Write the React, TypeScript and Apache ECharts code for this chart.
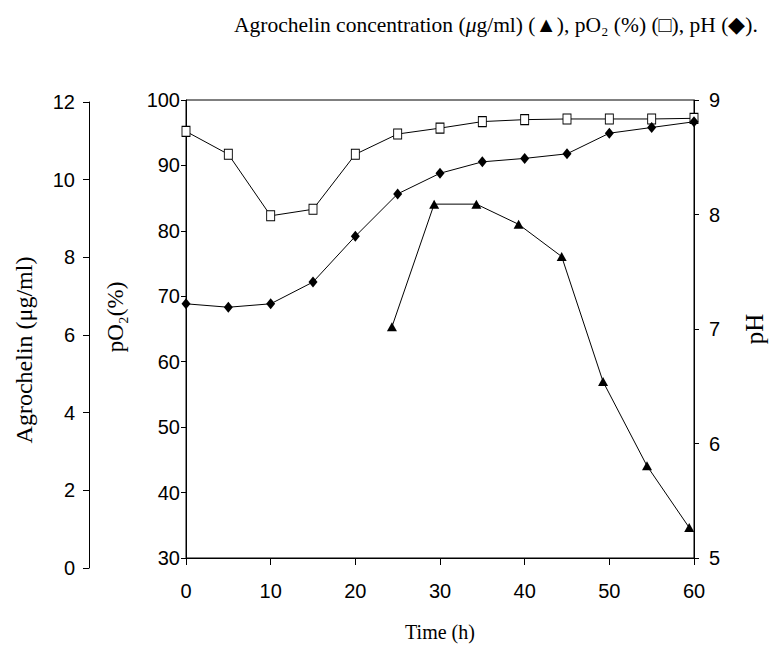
import React, { useEffect, useRef } from "react";
import * as echarts from "echarts";

// Time (h) for each series
const timeO2 = [0, 5, 10, 15, 20, 25, 30, 35, 40, 45, 50, 55, 60];
const pO2Values = [95.2, 91.7, 82.3, 83.3, 91.7, 94.8, 95.7, 96.7, 97.0, 97.1, 97.1, 97.1, 97.2];
const timePH = [0, 5, 10, 15, 20, 25, 30, 35, 40, 45, 50, 55, 60];
const pHValues = [7.22, 7.19, 7.22, 7.41, 7.81, 8.18, 8.36, 8.46, 8.49, 8.53, 8.71, 8.76, 8.81];
const timeAgro = [23.9, 28.8, 33.7, 38.6, 43.6, 48.4, 53.5, 58.4];
const agroValues = [6.21, 9.37, 9.37, 8.85, 8.02, 4.8, 2.63, 1.04];

const titleText = "Agrochelin concentration ({it|\u03bc}g/ml) (\u25b2), pO\u2082 (%) (\u25a1), pH (\u25c6).";

const SERIF = "'Liberation Serif', 'Times New Roman', serif";
const SANS = "'Liberation Sans Narrow', 'Arial Narrow', 'Liberation Sans', Arial, sans-serif";

const pairs = (xs: number[], ys: number[]) => xs.map((x, i) => [x, ys[i]]);

export default function App() {
  const ref = useRef<HTMLDivElement>(null);
  useEffect(() => {
    if (!ref.current) return;
    const chart = echarts.init(ref.current, null, { renderer: "svg" });
    const axisLine = { show: true, onZero: false, lineStyle: { color: "#000", width: 1 } };
    const tickLabel = { color: "#000", fontSize: 20, fontFamily: SANS };
    const nameStyle = (size: number, padding?: number[]) => ({
      color: "#000",
      fontSize: size,
      fontFamily: SERIF,
      ...(padding ? { padding } : {}),
    });
    chart.setOption({
      animation: false,
      backgroundColor: "#fff",
      title: {
        text: titleText,
        left: 229,
        top: 9,
        textStyle: {
          color: "#000",
          fontSize: 21.5,
          fontWeight: "normal",
          fontFamily: SERIF,
          rich: {
            it: { fontStyle: "italic", fontSize: 21.5, fontFamily: SERIF, color: "#000" },
          },
        },
      },
      grid: [
        { left: 186, right: 72, top: 100, bottom: 90, show: true, borderColor: "#000", borderWidth: 1 },
        { left: 186, right: 72, top: 102, bottom: 80, show: false },
      ],
      xAxis: [
        {
          gridIndex: 0,
          type: "value",
          min: 0,
          max: 60,
          interval: 10,
          axisLine,
          axisTick: { show: true, length: 7, lineStyle: { color: "#000" } },
          axisLabel: { ...tickLabel, margin: 23 },
          splitLine: { show: false },
          name: "Time (h)",
          nameLocation: "middle",
          nameGap: 64,
          nameTextStyle: nameStyle(20),
        },
        { gridIndex: 1, type: "value", min: 0, max: 60, show: false },
      ],
      yAxis: [
        {
          gridIndex: 0,
          type: "value",
          min: 30,
          max: 100,
          interval: 10,
          position: "left",
          axisLine,
          axisTick: { show: true, length: 5, lineStyle: { color: "#000" } },
          axisLabel: { ...tickLabel, margin: 6 },
          splitLine: { show: false },
          name: "pO\u2082(%)",
          nameLocation: "middle",
          nameRotate: 90,
          nameGap: 59,
          nameTextStyle: nameStyle(23, [0, 0, 0, 24]),
        },
        {
          gridIndex: 0,
          type: "value",
          min: 5,
          max: 9,
          interval: 1,
          position: "right",
          axisLine,
          axisTick: { show: true, length: 5, lineStyle: { color: "#000" } },
          axisLabel: { ...tickLabel, margin: 15 },
          splitLine: { show: false },
          name: "pH",
          nameLocation: "middle",
          nameRotate: 90,
          nameGap: 48,
          nameTextStyle: nameStyle(25),
        },
        {
          gridIndex: 1,
          type: "value",
          min: 0,
          max: 12,
          interval: 2,
          position: "left",
          offset: 97,
          axisLine,
          axisTick: { show: true, length: 6, lineStyle: { color: "#000" } },
          axisLabel: { ...tickLabel, margin: 14 },
          splitLine: { show: false },
          name: "Agrochelin (\u03bcg/ml)",
          nameLocation: "middle",
          nameRotate: 90,
          nameGap: 53,
          nameTextStyle: nameStyle(24, [0, 30, 0, 0]),
        },
      ],
      series: [
        {
          name: "pO2",
          type: "line",
          xAxisIndex: 0,
          yAxisIndex: 0,
          data: pairs(timeO2, pO2Values),
          symbol: "rect",
          symbolSize: [8, 10],
          lineStyle: { color: "#000", width: 1 },
          itemStyle: { color: "#fff", borderColor: "#000", borderWidth: 1 },
          z: 3,
        },
        {
          name: "pH",
          type: "line",
          xAxisIndex: 0,
          yAxisIndex: 1,
          data: pairs(timePH, pHValues),
          symbol: "diamond",
          symbolSize: [9, 11],
          lineStyle: { color: "#000", width: 1 },
          itemStyle: { color: "#000" },
          z: 3,
        },
        {
          name: "Agrochelin",
          type: "line",
          xAxisIndex: 1,
          yAxisIndex: 2,
          data: pairs(timeAgro, agroValues),
          symbol: "triangle",
          symbolSize: [10, 9],
          lineStyle: { color: "#000", width: 1 },
          itemStyle: { color: "#000" },
          z: 3,
        },
      ],
    });
    return () => chart.dispose();
  }, []);
  return (
    <div
      ref={ref}
      style={{ position: "fixed", left: 0, top: 0, width: 775, height: 648, background: "#fff" }}
    />
  );
}
